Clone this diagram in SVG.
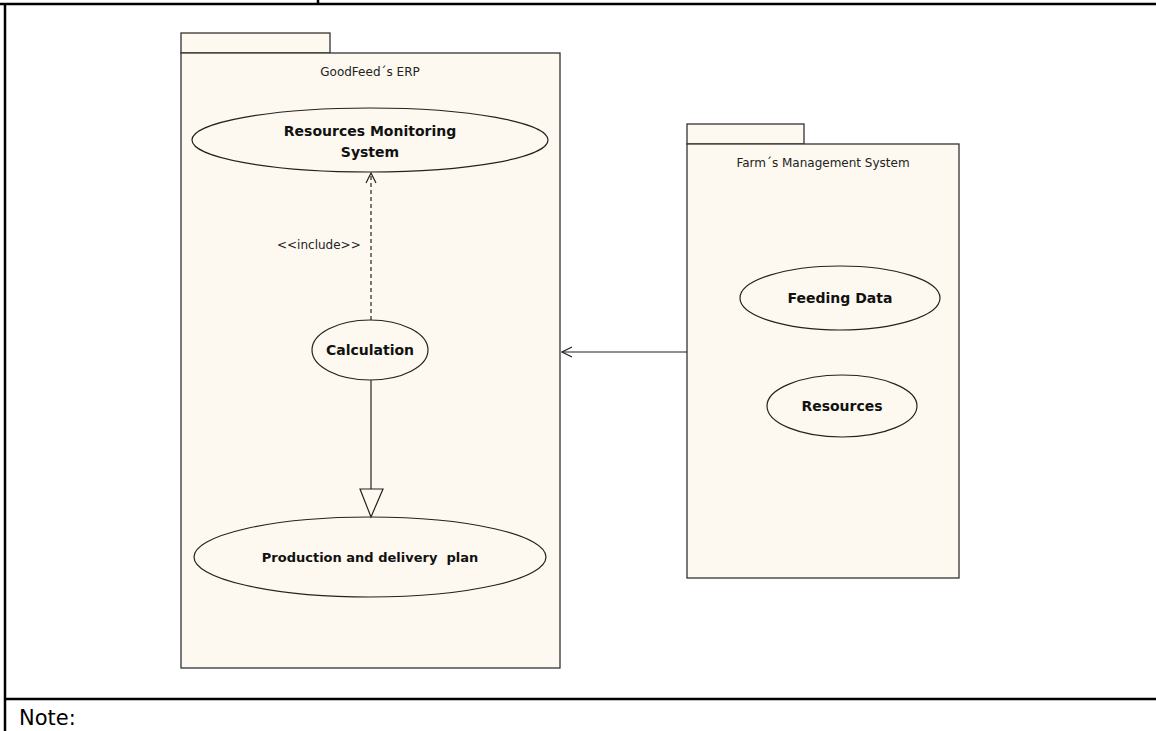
<svg xmlns="http://www.w3.org/2000/svg" width="1156" height="731" viewBox="0 0 1156 731">
  <defs>
    <style>
      .pkg { fill: #fdf9f0; stroke: #333; stroke-width: 1.3; }
      .uc { fill: #fdf9f0; stroke: #222; stroke-width: 1.2; }
      .uct { font-family: "DejaVu Sans", sans-serif; font-weight: bold; font-size: 14px; fill: #111; text-anchor: middle; }
      .uct.small { font-size: 13px; }
      .pkt { font-family: "DejaVu Sans", sans-serif; font-size: 12px; fill: #222; text-anchor: middle; }
      .lbl { font-family: "DejaVu Sans", sans-serif; font-size: 12px; fill: #222; }
      .conn { stroke: #222; stroke-width: 1.2; fill: none; }
      .frame { stroke: #000; stroke-width: 2.5; fill: none; }
    </style>
    <marker id="open" viewBox="0 0 12 12" refX="11" refY="6" markerWidth="12" markerHeight="12" markerUnits="userSpaceOnUse" orient="auto">
      <path d="M1,1 L11,6 L1,11" fill="none" stroke="#222" stroke-width="1.2"/>
    </marker>
  </defs>

  <rect width="1156" height="731" fill="#fff"/>

  <!-- table frame -->
  <g id="frame">
    <line class="frame" x1="0" y1="4" x2="1156" y2="4"/>
    <line class="frame" x1="5" y1="4" x2="5" y2="731"/>
    <line class="frame" x1="318" y1="0" x2="318" y2="4"/>
    <line class="frame" x1="5" y1="699" x2="1156" y2="699"/>
    <text x="19" y="725" font-family="DejaVu Sans, sans-serif" font-size="21" fill="#000">Note:</text>
  </g>

  <!-- packages -->
  <g id="pkg-erp">
    <rect class="pkg" x="181" y="33" width="149" height="20"/>
    <rect class="pkg" x="181" y="53" width="379" height="615"/>
    <text class="pkt" x="370" y="76">GoodFeed´s ERP</text>
  </g>
  <g id="pkg-farm">
    <rect class="pkg" x="687" y="124" width="117" height="20"/>
    <rect class="pkg" x="687" y="144" width="272" height="434"/>
    <text class="pkt" x="823" y="167">Farm´s Management System</text>
  </g>

  <!-- use cases -->
  <g id="uc-rms">
    <ellipse class="uc" cx="370" cy="140" rx="178" ry="32"/>
    <text class="uct" x="370" y="136">Resources Monitoring</text>
    <text class="uct" x="370" y="157">System</text>
  </g>
  <g id="uc-calc">
    <ellipse class="uc" cx="370" cy="350" rx="58" ry="30"/>
    <text class="uct" x="370" y="355">Calculation</text>
  </g>
  <g id="uc-plan">
    <ellipse class="uc" cx="370" cy="557" rx="176" ry="40"/>
    <text class="uct small" x="370" y="562" xml:space="preserve">Production and delivery  plan</text>
  </g>
  <g id="uc-feeding">
    <ellipse class="uc" cx="840" cy="298" rx="100" ry="32"/>
    <text class="uct" x="840" y="303">Feeding Data</text>
  </g>
  <g id="uc-resources">
    <ellipse class="uc" cx="842" cy="406" rx="75" ry="31"/>
    <text class="uct" x="842" y="411">Resources</text>
  </g>

  <!-- connectors -->
  <g id="connectors">
    <line class="conn" x1="371" y1="320" x2="371" y2="173" stroke-dasharray="4,3" marker-end="url(#open)"/>
    <text class="lbl" x="277" y="249">&lt;&lt;include&gt;&gt;</text>
    <line class="conn" x1="371" y1="380" x2="371" y2="489"/>
    <path d="M360,489 L383,489 L371,517 Z" fill="#fdf9f0" stroke="#222" stroke-width="1.2"/>
    <line class="conn" x1="687" y1="352" x2="562" y2="352" marker-end="url(#open)"/>
  </g>
</svg>
